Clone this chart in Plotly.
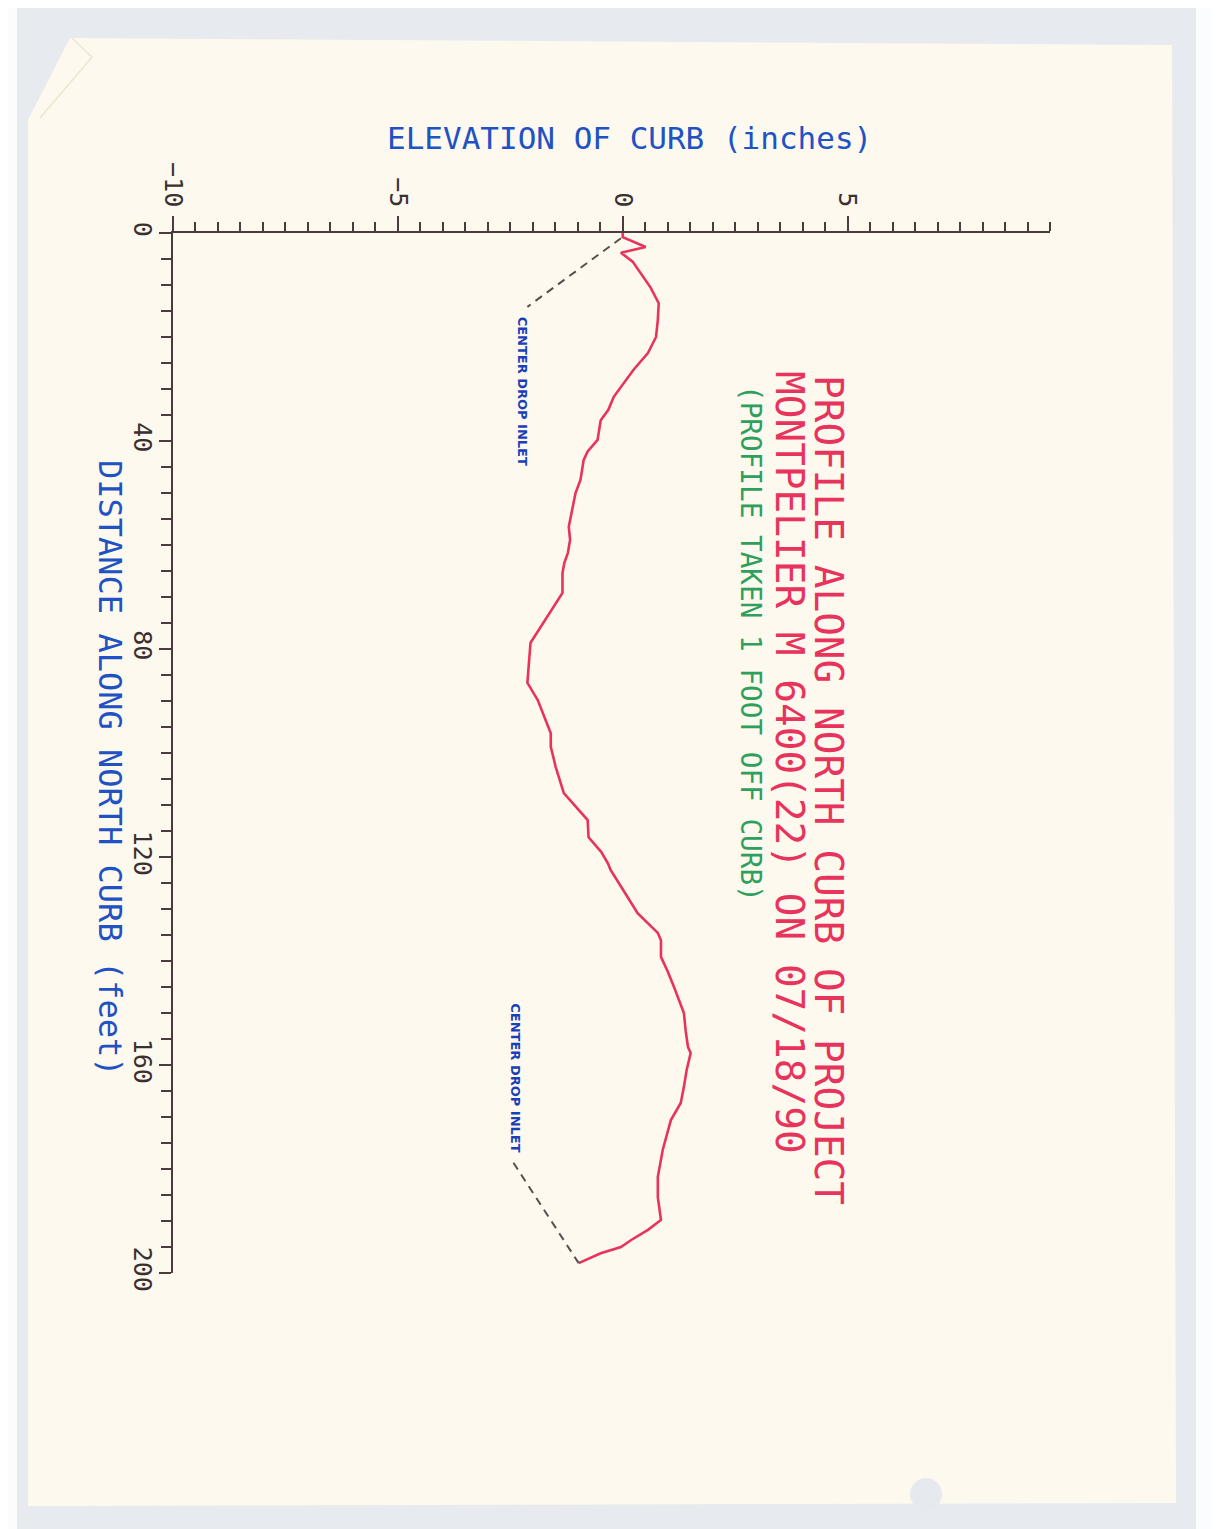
import plotly.graph_objects as go

# ---------------- data ----------------
distance_ft = [0, 0.8, 2.7, 3.8, 5.5, 7.7, 10.5, 13.5, 16.7, 20.0, 23.1, 26.3, 29.0, 31.5,
               34.0, 36.0, 39.8, 42.0, 43.7, 47.5, 50.0, 52.7, 56.5, 59.0, 61.5, 63.5, 65.4,
               69.2, 71.9, 75.8, 78.8, 82.0, 86.5, 89.8, 93.7, 96.2, 98.8, 102.7, 107.7,
               110.5, 112.9, 116.2, 119.0, 121.2, 122.5, 126.5, 130.8, 134.6, 136.0, 139.2,
               142.0, 145.0, 150.0, 153.5, 156.5, 157.7, 161.0, 164.2, 167.3, 170.6, 173.5,
               176.3, 181.5, 185.4, 189.8, 191.7, 193.7, 195.0, 196.2, 198.1]
elevation_in = [0, 0.0, 0.51, -0.04, 0.22, 0.40, 0.62, 0.80, 0.78, 0.74, 0.56, 0.24, 0.02, -0.20,
                -0.32, -0.49, -0.56, -0.78, -0.87, -0.94, -1.05, -1.11, -1.20, -1.17, -1.22, -1.30, -1.34,
                -1.34, -1.54, -1.83, -2.05, -2.08, -2.12, -1.89, -1.71, -1.60, -1.60, -1.49, -1.31,
                -1.02, -0.78, -0.76, -0.48, -0.33, -0.27, 0.02, 0.33, 0.78, 0.85, 0.85,
                1.00, 1.14, 1.36, 1.40, 1.45, 1.51, 1.42, 1.36, 1.29, 1.07, 0.98,
                0.89, 0.78, 0.78, 0.85, 0.56, 0.18, -0.04, -0.49, -0.98]

leader1_dist = [1.0, 14.2]
leader1_elev = [-0.04, -2.12]
leader2_dist = [178.8, 198.1]
leader2_elev = [-2.43, -0.98]

inlet_labels = ["CENTER DROP INLET", "CENTER DROP INLET"]
inlet_dist = [30.4, 162.5]
inlet_elev = [-2.23, -2.38]

title_lines = ["PROFILE ALONG NORTH CURB OF PROJECT",
               "MONTPELIER M 6400(22) ON 07/18/90",
               "(PROFILE TAKEN 1 FOOT OFF CURB)"]
x_title = "ELEVATION OF CURB (inches)"
y_title = "DISTANCE ALONG NORTH CURB (feet)"

x_tickvals = [-10, -5, 0, 5]
y_tickvals = [0, 40, 80, 120, 160, 200]

# ---------------- layout helpers ----------------
W, H = 1220, 1529
OFF = 8  # page body margin
PX0, PX1, PY0, PY1 = 173, 1050, 233, 1273  # plot area in page pixels


def fx(px):
    return (px - PX0) / (PX1 - PX0)


def fy(py):
    return (PY1 - py) / (PY1 - PY0)


AXIS = "#4a3c3c"
RED = "#e8335c"
GREEN = "#2f9f5c"
BLUE = "#2152c4"
MONO = "DejaVu Sans Mono"

fig = go.Figure()
fig.add_trace(go.Scatter(x=elevation_in, y=distance_ft, mode="lines",
                         line=dict(color=RED, width=2.6), hoverinfo="skip"))
for xs, ys in [(leader1_elev, leader1_dist), (leader2_elev, leader2_dist)]:
    fig.add_trace(go.Scatter(x=xs, y=ys, mode="lines",
                             line=dict(color="#555050", width=2, dash="8px,6px"),
                             hoverinfo="skip"))

annotations = []
for t, d, e in zip(inlet_labels, inlet_dist, inlet_elev):
    annotations.append(dict(x=e, y=d, xref="x", yref="y", text="<b>%s</b>" % t,
                            textangle=90, showarrow=False, xanchor="center", yanchor="middle",
                            font=dict(family="DejaVu Sans", size=13, color="#1a3fb8")))

title_pos = [(829, 790, 39.4, RED), (790, 762, 39.4, RED), (751, 643, 27.7, GREEN)]
for t, (px, py, sz, col) in zip(title_lines, title_pos):
    annotations.append(dict(x=fx(px), y=fy(py), xref="paper", yref="paper", text=t,
                            textangle=90, showarrow=False, xanchor="center", yanchor="middle",
                            font=dict(family=MONO, size=sz, color=col)))

annotations.append(dict(x=fx(629), y=fy(138), xref="paper", yref="paper", text=x_title,
                        showarrow=False, xanchor="center", yanchor="middle",
                        font=dict(family=MONO, size=31, color=BLUE)))
annotations.append(dict(x=fx(110), y=fy(768), xref="paper", yref="paper", text=y_title,
                        textangle=90, showarrow=False, xanchor="center", yanchor="middle",
                        font=dict(family=MONO, size=32, color=BLUE)))

# paper sheet
pts = [(70, 38), (1172, 45), (1176, 1503), (28, 1506), (28, 120)]
path = "M " + " L ".join("%f,%f" % (fx(a), fy(b)) for a, b in pts) + " Z"
fold = "M %f,%f L %f,%f L %f,%f" % (fx(72), fy(38), fx(92), fy(57), fx(40), fy(118))
shapes = [
    dict(type="rect", xref="paper", yref="paper", x0=fx(0), x1=fx(17), y0=fy(0), y1=fy(H + OFF),
         fillcolor="#fbfcfd", line=dict(width=0), layer="below"),
    dict(type="rect", xref="paper", yref="paper", x0=fx(1196), x1=fx(W + OFF), y0=fy(0),
         y1=fy(H + OFF), fillcolor="#fbfcfd", line=dict(width=0), layer="below"),
    dict(type="path", path=path, xref="paper", yref="paper", fillcolor="#fdf9ee",
         line=dict(width=0), layer="below"),
    dict(type="path", path=fold, xref="paper", yref="paper",
         line=dict(color="#efe6cf", width=1.5), layer="below"),
    dict(type="circle", xref="paper", yref="paper", x0=fx(910), x1=fx(942), y0=fy(1478),
         y1=fy(1510), fillcolor="#e6e9ee", line=dict(width=0), layer="below"),
]

fig.update_layout(
    width=W, height=H,
    margin=dict(l=PX0 - OFF, r=W - (PX1 - OFF), t=PY0 - OFF, b=H - (PY1 - OFF), pad=0),
    paper_bgcolor="#e7eaef", plot_bgcolor="rgba(0,0,0,0)",
    showlegend=False,
    annotations=annotations,
    shapes=shapes,
    xaxis=dict(range=[-10, 9.5], side="top", showgrid=False, zeroline=False,
               showline=True, linecolor=AXIS, linewidth=2,
               tickmode="array", tickvals=x_tickvals, ticks="outside", ticklen=15,
               tickwidth=2, tickcolor=AXIS, tickangle=90,
               tickfont=dict(family=MONO, size=25, color="#3a3030"),
               minor=dict(dtick=0.5, tick0=0, ticks="outside", ticklen=9, tickwidth=1.6,
                          tickcolor=AXIS),
               automargin=False, fixedrange=True),
    yaxis=dict(range=[200, 0], showgrid=False, zeroline=False,
               showline=True, linecolor=AXIS, linewidth=2,
               tickmode="array", tickvals=y_tickvals, ticks="outside", ticklen=12,
               tickwidth=2, tickcolor=AXIS, tickangle=90, ticklabelstandoff=-5,
               tickfont=dict(family=MONO, size=25, color="#3a3030"),
               minor=dict(dtick=5, tick0=0, ticks="outside", ticklen=10, tickwidth=1.6,
                          tickcolor=AXIS),
               automargin=False, fixedrange=True),
)

fig.write_html("out.html")
